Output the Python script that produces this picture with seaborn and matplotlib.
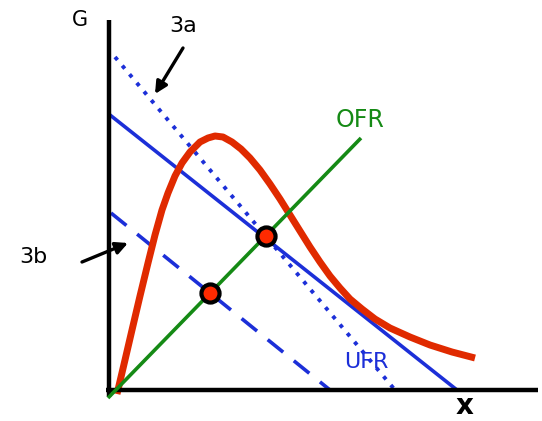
import matplotlib
matplotlib.use("Agg")
import matplotlib.pyplot as plt
import seaborn as sns

sns.set_theme(style="white")
plt.rcParams['font.family'] = ['DejaVu Sans']

# ---- data (x rightwards from origin, G upward from origin) ----
# red curve G(x)
curve_x = [7, 15, 22, 30, 38, 45, 52, 58, 65, 72, 80, 90, 98, 105, 113, 122, 131, 140,
           150, 160, 170, 180, 190, 200, 210, 220, 230, 240, 252, 265, 280, 300, 320,
           342, 365]
curve_g = [-4, 30, 60, 94, 127, 155, 180, 197, 214, 227, 238, 248, 252, 254, 253, 248,
           241, 232, 220, 206, 191, 175, 159, 143, 128, 114, 102, 91, 81, 71, 62, 53,
           45, 38, 32]
# UFR lines: from G-axis intercept down to x-axis intercept
ufr_x = [0, 347]
ufr_g = [275, 0]
ufr3a_x = [5, 285]
ufr3a_g = [333, 0]
ufr3b_x = [1, 220]
ufr3b_g = [177, 0]
# OFR line
ofr_x = [-2, 251]
ofr_g = [-8, 252]
# equilibrium points
eq_x = [156, 100]
eq_g = [154, 97]

BLUE = "#1c2fd8"
RED = "#e02a00"
GREEN = "#158a15"

fig = plt.figure(figsize=(5.42, 4.21), dpi=100)
ax = fig.add_axes([0, 0, 1, 1])
ax.set_xlim(-110, 432)
ax.set_ylim(-31, 390)
ax.axis("off")

# axes lines
ax.plot([-1, -1], [-7, 370], color="black", lw=3.2, solid_capstyle="butt", zorder=5)
ax.plot([-4, 428], [0, 0], color="black", lw=3.2, solid_capstyle="butt", zorder=5)

# blue UFR lines
sns.lineplot(x=ufr_x, y=ufr_g, ax=ax, color=BLUE, linewidth=2.6, zorder=3)
sns.lineplot(x=ufr3a_x, y=ufr3a_g, ax=ax, color=BLUE, linewidth=2.8,
             linestyle=(0, (1, 1.9)), zorder=3)
sns.lineplot(x=ufr3b_x, y=ufr3b_g, ax=ax, color=BLUE, linewidth=2.6,
             linestyle=(0, (5.5, 3.8)), zorder=3)

# red curve
sns.lineplot(x=curve_x, y=curve_g, ax=ax, color=RED, linewidth=5, sort=False,
             zorder=4, solid_capstyle="butt", solid_joinstyle="round")

# green OFR
sns.lineplot(x=ofr_x, y=ofr_g, ax=ax, color=GREEN, linewidth=2.6, zorder=6,
             solid_capstyle="butt")

# equilibrium points
sns.scatterplot(x=eq_x, y=eq_g, ax=ax, s=170, color="#ff2a00", edgecolor="black",
                linewidth=3, zorder=7)

# labels
ax.text(-30, 370, "G", fontsize=15, ha="center", va="center", color="black")
ax.text(73, 364, "3a", fontsize=16, ha="center", va="center", color="black")
ax.text(-77, 133, "3b", fontsize=16, ha="center", va="center", color="black")
ax.text(250, 270, "OFR", fontsize=17, ha="center", va="center", color=GREEN)
ax.text(256, 28, "UFR", fontsize=16, ha="center", va="center", color=BLUE)
ax.text(355, -16, "x", fontsize=20, fontweight="bold", ha="center", va="center",
        color="black")

# arrows
ax.annotate("", xy=(45, 296), xytext=(73, 342),
            arrowprops=dict(arrowstyle="-|>", color="black", lw=2.4,
                            mutation_scale=18, shrinkA=0, shrinkB=0))
ax.annotate("", xy=(18, 147), xytext=(-28, 128),
            arrowprops=dict(arrowstyle="-|>", color="black", lw=2.4,
                            mutation_scale=18, shrinkA=0, shrinkB=0), zorder=8)

fig.savefig("out.png", dpi=100)
